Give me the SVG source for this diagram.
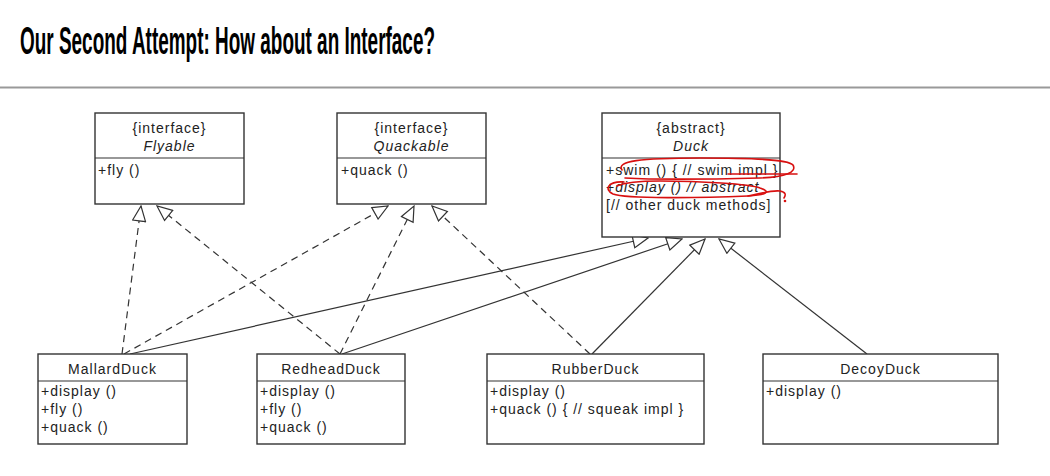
<svg xmlns="http://www.w3.org/2000/svg" width="1050" height="476" viewBox="0 0 1050 476">
<defs>
<style>
.box{fill:#fff;stroke:#333;stroke-width:1.4}
.div{stroke:#333;stroke-width:1.2}
.t{font-family:"Liberation Sans",Arial,sans-serif;font-size:14px;letter-spacing:1px;fill:#222}
.c{text-anchor:middle}
.i{font-style:italic}
.dash{fill:none;stroke:#333;stroke-width:1.2;stroke-dasharray:7 5}
.solid{fill:none;stroke:#333;stroke-width:1.2}
.red{fill:none;stroke:#d81010;stroke-width:1.6;stroke-linecap:round;stroke-linejoin:round}
</style>
<marker id="tri" viewBox="0 0 17 15" refX="16" refY="7.5" markerWidth="17" markerHeight="15" markerUnits="userSpaceOnUse" orient="auto">
<path d="M1,1 L16,7.5 L1,14 Z" fill="#fff" stroke="#333" stroke-width="1.2"/>
</marker>
</defs>
<rect width="1050" height="476" fill="#fff"/>
<text x="20" y="54" font-family="'Liberation Sans',Arial,sans-serif" font-weight="bold" font-size="38" fill="#000" textLength="415" lengthAdjust="spacingAndGlyphs">Our Second Attempt: How about an Interface?</text>
<line x1="0" y1="87.5" x2="1050" y2="87.5" stroke="#999" stroke-width="2"/>

<g id="connectors">
<path class="dash" d="M122,354 L141,206" marker-end="url(#tri)"/>
<path class="dash" d="M340,354 L157,206" marker-end="url(#tri)"/>
<path class="dash" d="M124,354 L388,206" marker-end="url(#tri)"/>
<path class="dash" d="M340,354 L414,206" marker-end="url(#tri)"/>
<path class="dash" d="M590,354 L432,206" marker-end="url(#tri)"/>
<path class="solid" d="M130,354 L648,238" marker-end="url(#tri)"/>
<path class="solid" d="M342,354 L682,239" marker-end="url(#tri)"/>
<path class="solid" d="M592,354 L705,239" marker-end="url(#tri)"/>
<path class="solid" d="M867,354 L719,239" marker-end="url(#tri)"/>
</g>

<g id="Flyable">
<rect class="box" x="95" y="113" width="149" height="91"/>
<line class="div" x1="95" y1="158" x2="244" y2="158"/>
<text class="t c" x="169.5" y="133">{interface}</text>
<text class="t c i" x="169.5" y="151">Flyable</text>
<text class="t" x="98" y="175">+fly ()</text>
</g>

<g id="Quackable">
<rect class="box" x="337" y="113" width="149" height="91"/>
<line class="div" x1="337" y1="158" x2="486" y2="158"/>
<text class="t c" x="411.5" y="133">{interface}</text>
<text class="t c i" x="411.5" y="151">Quackable</text>
<text class="t" x="341" y="175">+quack ()</text>
</g>

<g id="Duck">
<rect class="box" x="602" y="113" width="178" height="124"/>
<line class="div" x1="602" y1="158" x2="780" y2="158"/>
<text class="t c" x="691" y="133">{abstract}</text>
<text class="t c i" x="691" y="151">Duck</text>
<text class="t" x="606" y="175">+swim () { // swim impl }</text>
<text class="t" x="606" y="192">+<tspan class="i">display () // abstract</tspan></text>
<text class="t" x="606" y="210">[// other duck methods]</text>
<path class="red" d="M622,170 C616,161 640,158 700,158 C750,158 788,159 793,165 C797,172 786,177 760,178 C720,179 660,180 625,178"/>
<path class="red" d="M728,174 L797,174"/>
<path class="red" d="M624,182 C609,181 603,189 613,194 C626,199 700,198 748,196 C766,195 772,192 760,188 C750,184 700,181 660,181 C640,181 626,182 617,186"/>
<path class="red" d="M748,196 C760,194 770,190 780,191 C786,192 786,195 784,198"/>
<circle cx="785" cy="201" r="1.3" fill="#d81010"/>
</g>

<g id="MallardDuck">
<rect class="box" x="38" y="354" width="149" height="90"/>
<line class="div" x1="38" y1="381" x2="187" y2="381"/>
<text class="t c" x="112.5" y="374">MallardDuck</text>
<text class="t" x="41" y="396">+display ()</text>
<text class="t" x="41" y="414">+fly ()</text>
<text class="t" x="41" y="432">+quack ()</text>
</g>

<g id="RedheadDuck">
<rect class="box" x="257" y="354" width="148" height="90"/>
<line class="div" x1="257" y1="381" x2="405" y2="381"/>
<text class="t c" x="331" y="374">RedheadDuck</text>
<text class="t" x="260" y="396">+display ()</text>
<text class="t" x="260" y="414">+fly ()</text>
<text class="t" x="260" y="432">+quack ()</text>
</g>

<g id="RubberDuck">
<rect class="box" x="487" y="354" width="217" height="90"/>
<line class="div" x1="487" y1="381" x2="704" y2="381"/>
<text class="t c" x="595.5" y="374">RubberDuck</text>
<text class="t" x="490" y="396">+display ()</text>
<text class="t" x="490" y="414">+quack () { // squeak impl }</text>
</g>

<g id="DecoyDuck">
<rect class="box" x="763" y="354" width="235" height="90"/>
<line class="div" x1="763" y1="381" x2="998" y2="381"/>
<text class="t c" x="880.5" y="374">DecoyDuck</text>
<text class="t" x="766" y="396">+display ()</text>
</g>
</svg>
